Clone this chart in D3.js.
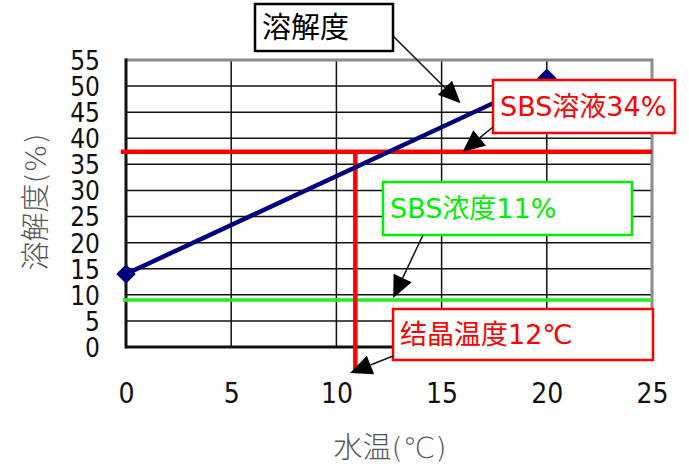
<!DOCTYPE html>
<html><head><meta charset="utf-8">
<script src="https://cdn.jsdelivr.net/npm/d3@7"></script>
<style>
body{margin:0;background:#fff;}
text{font-family:"DejaVu Sans","Noto Sans CJK JP",sans-serif;}
</style></head>
<body><svg id="c" width="689" height="475"></svg>
<script>
// ---- data ----
const xTicks = [0, 5, 10, 15, 20, 25];
const yTicks = [0, 5, 10, 15, 20, 25, 30, 35, 40, 45, 50, 55];
const solTemp = [0, 20];          // 水温 (℃)
const solValue = [14, 51.5];      // 溶解度 (%)
const sbsSolution = 37.4;         // SBS溶液 level
const sbsConc = 9;                // SBS浓度 level
const crystTemp = 10.9;           // 结晶温度
const xTitle = "水温(℃)";
const yTitle = "溶解度(%)";
const notes = [
  {text: "溶解度", color: "#000", tip: [15.9, 46.7]},
  {text: "SBS溶液34%", color: "#ff0000", tip: [16.0, 37.4]},
  {text: "SBS浓度11%", color: "#00ee00", tip: [12.7, 9.4]},
  {text: "结晶温度12℃", color: "#ff0000", tip: [10.65, -5]}
];
// layout for callout boxes: [x, y, w, h, anchorX, anchorY, fontSize]
const noteBoxes = [
  [255, 4, 138, 47, 393, 36, 29],
  [493, 80, 182, 53, 493, 127, 27],
  [383, 182, 249, 53, 423, 235, 27],
  [393, 309, 260, 51, 393, 356, 27]
];

const svg = d3.select("#c");
const x = d3.scaleLinear().domain([0, 25]).range([126, 652]);
const y = d3.scaleLinear().domain([0, 55]).range([347, 60]);

// grid
const g = svg.append("g");
g.selectAll(".vg").data(xTicks.slice(1, -1)).join("line")
  .attr("x1", d => x(d)).attr("x2", d => x(d)).attr("y1", y(0)).attr("y2", y(55))
  .attr("stroke", "#111").attr("stroke-width", 1.5);
g.selectAll(".hg").data(yTicks.slice(1, -1)).join("line")
  .attr("y1", d => y(d)).attr("y2", d => y(d)).attr("x1", x(0)).attr("x2", x(25))
  .attr("stroke", "#111").attr("stroke-width", 1.5);
// frame
g.append("line").attr("x1", x(0)).attr("x2", x(25)).attr("y1", y(55)).attr("y2", y(55)).attr("stroke", "#8c8c8c").attr("stroke-width", 3);
g.append("line").attr("x1", x(25)).attr("x2", x(25)).attr("y1", y(55) - 1.5).attr("y2", y(0)).attr("stroke", "#8c8c8c").attr("stroke-width", 3);
g.append("line").attr("x1", x(0)).attr("x2", x(0)).attr("y1", y(55) - 1.5).attr("y2", y(0) + 1.5).attr("stroke", "#111").attr("stroke-width", 3);
g.append("line").attr("x1", x(0)).attr("x2", x(25)).attr("y1", y(0)).attr("y2", y(0)).attr("stroke", "#111").attr("stroke-width", 3);

// axes labels via d3 axes
const yAxis = svg.append("g").attr("transform", `translate(${x(0) - 26},0)`)
  .call(d3.axisLeft(y).tickValues(yTicks).tickSize(0).tickPadding(0));
yAxis.select(".domain").remove();
yAxis.selectAll("text").attr("font-size", 26)
  .attr("fill", "#111").attr("dy", "0.36em").style("font-family", '"DejaVu Sans Condensed","DejaVu Sans",sans-serif');
const xAxis = svg.append("g").attr("transform", `translate(0,${y(0) + 36})`)
  .call(d3.axisBottom(x).tickValues(xTicks).tickSize(0).tickPadding(0));
xAxis.select(".domain").remove();
xAxis.selectAll("text").attr("font-size", 28)
  .attr("fill", "#111").attr("dy", "0.71em").style("font-family", '"DejaVu Sans Condensed","DejaVu Sans",sans-serif');

// titles
svg.append("text").attr("x", 390).attr("y", 458).attr("text-anchor", "middle")
  .attr("font-size", 29).attr("fill", "#555").attr("font-weight", 300).text(xTitle);
svg.append("text").attr("transform", `translate(46,202) rotate(-90)`).attr("text-anchor", "middle")
  .attr("font-size", 29).attr("fill", "#555").attr("font-weight", 300).text(yTitle);

// reference lines
svg.append("line").attr("x1", x(-0.15)).attr("x2", x(25)).attr("y1", y(sbsConc)).attr("y2", y(sbsConc))
  .attr("stroke", "#22ee22").attr("stroke-width", 3.5);
svg.append("line").attr("x1", x(-0.25)).attr("x2", x(25)).attr("y1", y(sbsSolution)).attr("y2", y(sbsSolution))
  .attr("stroke", "#ff0000").attr("stroke-width", 4.5);
svg.append("line").attr("x1", x(crystTemp)).attr("x2", x(crystTemp)).attr("y1", y(sbsSolution)).attr("y2", y(-4.4))
  .attr("stroke", "#ff0000").attr("stroke-width", 4.5);

// solubility line
const pts = solTemp.map((t, i) => [t, solValue[i]]);
svg.append("path").datum(pts)
  .attr("d", d3.line().x(d => x(d[0])).y(d => y(d[1])))
  .attr("fill", "none").attr("stroke", "#00007f").attr("stroke-width", 4.5);
svg.selectAll(".mk").data(pts).join("path")
  .attr("transform", d => `translate(${x(d[0])},${y(d[1])}) rotate(45)`)
  .attr("d", d3.symbol(d3.symbolSquare, 190))
  .attr("fill", "#00007f");

// callouts
notes.forEach((n, i) => {
  const [bx, by, bw, bh, ax, ay, fs] = noteBoxes[i];
  svg.append("rect").attr("x", bx).attr("y", by).attr("width", bw).attr("height", bh)
    .attr("fill", "#fff").attr("stroke", n.color).attr("stroke-width", 2.5);
  svg.append("text").attr("x", bx + 7).attr("y", by + bh / 2).attr("dy", "0.36em")
    .attr("font-size", fs).attr("fill", n.color).text(n.text);
  const tx = x(n.tip[0]), ty = y(n.tip[1]);
  const ang = Math.atan2(ty - ay, tx - ax);
  const L = 22, W = 10;
  const bxp = tx - L * Math.cos(ang), byp = ty - L * Math.sin(ang);
  svg.append("line").attr("x1", ax).attr("y1", ay).attr("x2", bxp).attr("y2", byp)
    .attr("stroke", "#111").attr("stroke-width", 1.5);
  const px = -Math.sin(ang), py = Math.cos(ang);
  svg.append("path").attr("d", `M${tx},${ty}L${bxp + W * px},${byp + W * py}L${bxp - W * px},${byp - W * py}Z`)
    .attr("fill", "#000");
});
</script></body></html>
